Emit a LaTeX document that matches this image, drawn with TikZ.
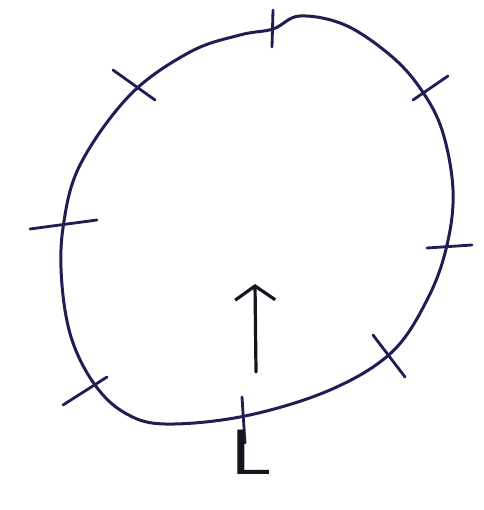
\documentclass[tikz,border=0pt]{standalone}
\usetikzlibrary{arrows.meta}
\definecolor{ink}{RGB}{30,30,85}
\definecolor{pencil}{RGB}{20,20,30}
\begin{document}
\begin{tikzpicture}[x=1pt,y=-1pt,
    loopline/.style={ink, line width=3pt, line cap=round, line join=round},
    tickmark/.style={ink, line width=2.8pt, line cap=round}]
        \useasboundingbox[fill=white] (0,0) rectangle (483,510);

        % closed loop
        \draw[loopline] plot[smooth cycle, tension=0.6] coordinates {
            (273,29) (300,16) (345,25) (390,55) (420,88) (442,130) (453,190)
            (447,245) (428,298) (392,352) (330,390) (245,416) (165,424)
            (125,413) (95,385) (72,340) (62,285) (63,228) (80,165)
            (130,95) (190,52) (240,35)};

        % tick marks
        \draw[tickmark] (273,10) -- (272,47);
        \draw[tickmark] (448,76) -- (413,100);
        \draw[tickmark] (427,248) -- (472,245);
        \draw[tickmark] (373,335) -- (405,377);
        \draw[tickmark] (242,397) -- (245,443);
        \draw[tickmark] (107,377) -- (63,405);
        \draw[tickmark] (30,229) -- (97,220);
        \draw[tickmark] (113,70) -- (155,100);

        % arrow and label
        \coordinate (tail) at (256,372);
        \coordinate (head) at (255,284);
        \draw[pencil, line width=3.2pt, line cap=round,
            -{Straight Barb[length=14pt,width=40pt,line width=3.2pt]}] (tail) -- (head);
        \node[pencil, font=\fontsize{64}{64}\sffamily, xscale=1.3, transform shape] (lbl) at (252,452) {L};
    \end{tikzpicture}
\end{document}
